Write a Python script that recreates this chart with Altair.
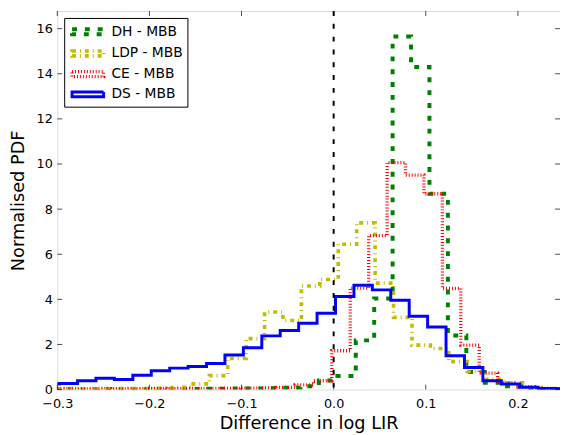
import altair as alt
import pandas as pd

# ---- data (bin left edges + heights) ----
SERIES = ["DH - MBB", "LDP - MBB", "CE - MBB", "DS - MBB"]

DH_START = -0.316
DH_VALUES = [0.02, 0.03, 0.02, 0.03, 0.02, 0.03, 0.03, 0.04, 0.03, 0.04, 0.05, 0.05, 0.06,
             0.08, 0.15, 0.40, 0.60, 2.18, 4.04, 15.65, 14.30, 8.68, 2.40, 0.78, 0.30, 0.15,
             0.05, 0.03, 0.02]

LDP_START = -0.315
LDP_VALUES = [0.03, 0.04, 0.03, 0.05, 0.04, 0.05, 0.06, 0.10, 0.25, 0.62, 1.38, 2.26, 3.44,
              3.06, 4.59, 4.88, 6.44, 7.39, 4.72, 3.20, 1.97, 1.82, 1.24, 0.80, 0.45, 0.30,
              0.10, 0.05, 0.03]

CE_START = -0.322
CE_VALUES = [0.03, 0.04, 0.03, 0.04, 0.03, 0.04, 0.05, 0.04, 0.05, 0.04, 0.05, 0.06, 0.07,
             0.10, 0.21, 0.39, 1.72, 4.50, 6.82, 10.06, 9.51, 8.68, 4.48, 1.97, 0.73, 0.30,
             0.12, 0.05, 0.03]

DS_START = -0.318
DS_VALUES = [0.25, 0.27, 0.39, 0.50, 0.45, 0.63, 0.83, 0.95, 1.02, 1.16, 1.53, 1.85, 2.38,
             2.62, 2.94, 3.38, 4.13, 4.62, 4.42, 3.96, 3.25, 2.77, 1.50, 0.98, 0.39, 0.25,
             0.10, 0.05, 0.03]

BIN_WIDTH = 0.02
X_TICKS = [-0.3, -0.2, -0.1, 0.0, 0.1, 0.2]
Y_TICKS = [0, 2, 4, 6, 8, 10, 12, 14, 16]
ZERO_LINE = [0.0]

COLORS = ["#008000", "#bfbf00", "#ff0000", "#0000ff"]
DASHES = [[5, 8], [4, 4, 1, 4], [1, 2], [1, 0]]
WIDTHS = [4, 3, 3, 5.5]

W, H = 510, 384
X_DOMAIN = [-0.3, 0.2457]
Y_DOMAIN = [0, 16.78]


def steps(name, start, values):
    rows = []
    for i, v in enumerate(values):
        rows.append({"series": name, "x": start + i * BIN_WIDTH, "y": v, "o": i})
    rows.append({"series": name, "x": start + len(values) * BIN_WIDTH,
                 "y": values[-1], "o": len(values)})
    return rows


rows = []
rows += steps(SERIES[0], DH_START, DH_VALUES)
rows += steps(SERIES[1], LDP_START, LDP_VALUES)
rows += steps(SERIES[2], CE_START, CE_VALUES)
rows += steps(SERIES[3], DS_START, DS_VALUES)
df = pd.DataFrame(rows)

xscale = alt.Scale(domain=X_DOMAIN, nice=False, zero=False)
yscale = alt.Scale(domain=Y_DOMAIN, nice=False, zero=False)

xaxis = alt.Axis(values=X_TICKS, format=".1f", title="Difference in log LIR",
                 labelFontSize=13, titleFontSize=18, labelPadding=8, titlePadding=4,
                 ticks=False, domain=False, grid=False, labelFlush=False)
yaxis = alt.Axis(values=Y_TICKS, format="d", title="Normalised PDF",
                 labelFontSize=13, titleFontSize=18, labelPadding=5, titlePadding=9,
                 ticks=False, domain=False, grid=False)

legend = alt.Legend(title=None, orient="top-left", offset=7,
                    symbolType="M-2,-0.31H2V0.31H-2Z", symbolSize=256,
                    symbolFillColor="transparent", symbolOffset=10,
                    labelFontSize=14, labelOffset=14, rowPadding=1, padding=4,
                    strokeColor="black", fillColor="white", labelLimit=200)

X = alt.X("x:Q", scale=xscale, axis=xaxis)
Y = alt.Y("y:Q", scale=yscale, axis=yaxis)

hist = alt.Chart(df).mark_line(interpolate="step-after", clip=True).encode(
    x=X,
    y=Y,
    color=alt.Color("series:N", scale=alt.Scale(domain=SERIES, range=COLORS), legend=legend,
                    sort=SERIES),
    strokeDash=alt.StrokeDash("series:N", scale=alt.Scale(domain=SERIES, range=DASHES),
                              legend=legend, sort=SERIES),
    strokeWidth=alt.StrokeWidth("series:N", scale=alt.Scale(domain=SERIES, range=WIDTHS),
                                legend=legend, sort=SERIES),
    order="o:Q",
)

zero = alt.Chart(pd.DataFrame({"x": ZERO_LINE})).mark_rule(
    color="black", strokeWidth=2, strokeDash=[5, 8]
).encode(x=X)

xt = pd.DataFrame({"x": X_TICKS})
yt = pd.DataFrame({"y": Y_TICKS})
tick_x_bottom = alt.Chart(xt).mark_tick(orient="vertical", size=5, thickness=1, color="black").encode(
    x=X, y=alt.value(H - 2.5))
tick_x_top = alt.Chart(xt).mark_tick(orient="vertical", size=5, thickness=1, color="black").encode(
    x=X, y=alt.value(2.5))
tick_y_left = alt.Chart(yt).mark_tick(orient="horizontal", size=5, thickness=1, color="black").encode(
    y=Y, x=alt.value(2.5))
tick_y_right = alt.Chart(yt).mark_tick(orient="horizontal", size=5, thickness=1, color="black").encode(
    y=Y, x=alt.value(W - 2.5))

chart = alt.layer(hist, zero, tick_x_bottom, tick_x_top, tick_y_left, tick_y_right).properties(
    width=W, height=H,
    autosize=alt.AutoSizeParams(type="none"),
    padding={"left": 50, "top": 0, "right": 0, "bottom": 43},
).configure_view(
    stroke="black", strokeWidth=1
).configure(
    font="DejaVu Sans"
).configure_axis(
    labelColor="black", titleColor="black", labelFont="DejaVu Sans", titleFont="DejaVu Sans",
    titleFontWeight="normal"
).configure_legend(
    labelColor="black", labelFont="DejaVu Sans", cornerRadius=0, strokeWidth=1
)

chart.save("out.html", embed_options={"renderer": "svg", "actions": False})
